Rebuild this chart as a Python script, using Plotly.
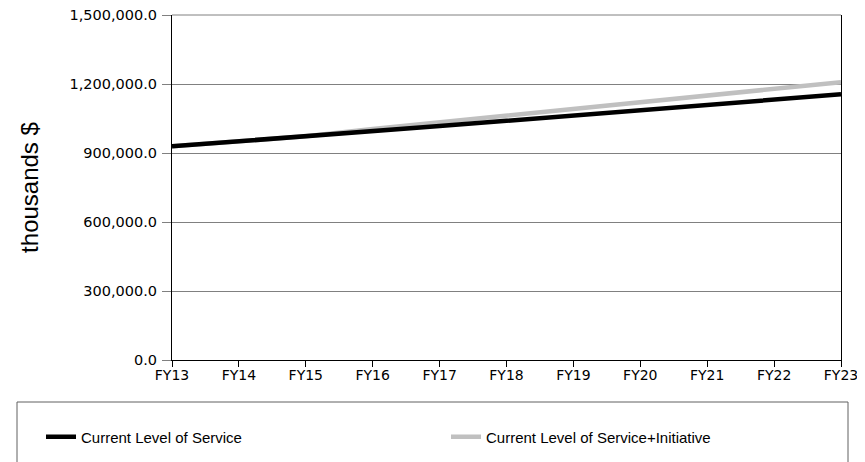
import plotly.graph_objects as go

categories = ["FY13", "FY14", "FY15", "FY16", "FY17", "FY18", "FY19", "FY20", "FY21", "FY22", "FY23"]
current_service = [929000, 950000, 972000, 995000, 1017000, 1040000, 1063000, 1085000, 1108000, 1131000, 1155000]
service_initiative = [929000, 950000, 973000, 1004000, 1033000, 1062000, 1091000, 1120000, 1149000, 1178000, 1208000]
y_ticks = [0, 300000, 600000, 900000, 1200000, 1500000]

FONT = "Liberation Sans, Arial, sans-serif"
TICKFONT = "DejaVu Sans, Verdana, sans-serif"

fig = go.Figure()
fig.add_trace(go.Scatter(x=categories, y=service_initiative, mode="lines",
                         name="Current Level of Service+Initiative", legend="legend2",
                         line=dict(color="#c0c0c0", width=4.5)))
fig.add_trace(go.Scatter(x=categories, y=current_service, mode="lines",
                         name="Current Level of Service", legend="legend",
                         line=dict(color="#000000", width=4.5)))

# page body adds an 8px offset; figure sized to fit the window
OFF = 8
W, H = 857, 454
L, R, T, B = 164, 24, 7, 102
pw, ph = W - L - R, H - T - B

def px(xs):
    return (xs - OFF - L) / pw

def py(ys):
    return (H - B - (ys - OFF)) / ph

leg_common = dict(orientation="h", xanchor="left", yanchor="middle", y=py(437),
                  font=dict(family=FONT, size=15, color="#000000"),
                  bgcolor="rgba(0,0,0,0)", borderwidth=0, itemwidth=30)

fig.update_layout(
    width=W, height=H,
    margin=dict(l=L, r=R, t=T, b=B, autoexpand=False),
    paper_bgcolor="white", plot_bgcolor="white",
    font=dict(family=FONT, size=15, color="#000000"),
    showlegend=True,
    legend=dict(x=px(46 - 5), **leg_common),
    legend2=dict(x=px(451 - 5), **leg_common),
    xaxis=dict(type="category", range=[0, 10], showgrid=False,
               showline=True, linecolor="#000000", linewidth=1,
               ticks="outside", ticklen=6, tickcolor="#000000", ticklabelstandoff=-4,
               tickfont=dict(family=TICKFONT, size=14), automargin=False),
    yaxis=dict(range=[0, 1500000], tickvals=y_ticks, tickformat=",.1f",
               showgrid=True, gridcolor="#808080", gridwidth=1,
               showline=True, linecolor="#000000", linewidth=1, mirror=True,
               ticks="outside", ticklen=9, tickcolor="#808080", ticklabelstandoff=2,
               ticklabeloverflow="allow",
               zeroline=False, tickfont=dict(family=TICKFONT, size=14.5), automargin=False,
               title=dict(text="thousands $", font=dict(family=FONT, size=24), standoff=24)),
    shapes=[
        dict(type="line", xref="paper", yref="paper", x0=0, x1=1, y0=1, y1=1,
             line=dict(color="#808080", width=1), layer="below"),
        dict(type="rect", xref="paper", yref="paper",
             x0=px(17), x1=px(848), y0=py(475), y1=py(402),
             line=dict(color="#606060", width=1), fillcolor="rgba(0,0,0,0)"),
    ],
)

fig.write_html("out.html")
